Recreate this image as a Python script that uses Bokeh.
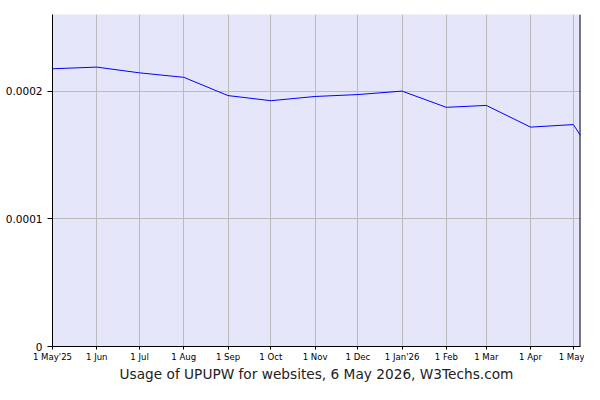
import pandas as pd
from bokeh.plotting import figure
from bokeh.models import Range1d, FixedTicker, Span
from bokeh.embed import file_html
from bokeh.resources import INLINE

dates = ["2025-05-01", "2025-06-01", "2025-07-01", "2025-08-01", "2025-09-01",
         "2025-10-01", "2025-11-01", "2025-12-01", "2026-01-01", "2026-02-01",
         "2026-03-01", "2026-04-01", "2026-05-01", "2026-05-06"]
usage = [0.0002175, 0.0002188, 0.0002143, 0.0002108, 0.0001965,
         0.0001925, 0.0001958, 0.0001973, 0.0002000, 0.0001873,
         0.0001888, 0.0001718, 0.0001738, 0.0001652]

tick_dates = ["2025-05-01", "2025-06-01", "2025-07-01", "2025-08-01", "2025-09-01",
              "2025-10-01", "2025-11-01", "2025-12-01", "2026-01-01", "2026-02-01",
              "2026-03-01", "2026-04-01", "2026-05-01"]
tick_labels = ["1 May'25", "1 Jun", "1 Jul", "1 Aug", "1 Sep", "1 Oct", "1 Nov",
               "1 Dec", "1 Jan'26", "1 Feb", "1 Mar", "1 Apr", "1 May"]
y_ticks = [0, 0.0001, 0.0002]
y_tick_labels = ["0", "0.0001", "0.0002"]
title_text = "Usage of UPUPW for websites, 6 May 2026, W3Techs.com"

def to_ms(s):
    return int(pd.Timestamp(s).value // 10**6)

x = [to_ms(d) for d in dates]
xt = [to_ms(d) for d in tick_dates]

p = figure(width=584, height=384, output_backend="svg", toolbar_location=None,
           x_range=Range1d(x[0], x[-1]), y_range=Range1d(0, 0.00026),
           min_border_left=52, min_border_right=4, min_border_top=14,
           min_border_bottom=0)
p.background_fill_color = "#E6E6FA"
p.border_fill_color = "white"
p.outline_line_color = None

p.line(x, usage, line_color="#0000FF", line_width=1)

p.xaxis.ticker = FixedTicker(ticks=xt)
p.xaxis.major_label_overrides = {v: l for v, l in zip(xt, tick_labels)}
p.yaxis.ticker = FixedTicker(ticks=y_ticks)
p.yaxis.major_label_overrides = {v: l for v, l in zip(y_ticks, y_tick_labels)}

for ax in (p.xaxis, p.yaxis):
    ax.axis_line_color = "black"
    ax.axis_line_width = 1
    ax.major_tick_line_color = "black"
    ax.minor_tick_line_color = None
    ax.major_tick_in = 0
    ax.major_label_text_color = "black"

p.xaxis.major_tick_out = 3
p.xaxis.major_label_standoff = 1
p.xaxis.major_label_text_font = "DejaVu Sans Condensed"
p.xaxis.major_label_text_font_size = "9.5px"
p.xaxis.major_label_text_line_height = 1.0
p.xaxis.axis_label = title_text
p.xaxis.axis_label_standoff = 1
p.xaxis.axis_label_text_font = "DejaVu Sans"
p.xaxis.axis_label_text_font_size = "13.7px"
p.xaxis.axis_label_text_font_style = "normal"
p.xaxis.axis_label_text_color = "#222222"
p.xaxis.axis_label_text_line_height = 1.0
p.yaxis.major_tick_out = 5
p.yaxis.major_label_standoff = 5
p.yaxis.major_label_text_font = "DejaVu Sans"
p.yaxis.major_label_text_font_size = "10.5px"

p.xgrid.ticker = FixedTicker(ticks=xt)
p.ygrid.ticker = FixedTicker(ticks=y_ticks)
p.grid.grid_line_color = "#BBBBBB"
p.grid.grid_line_width = 1

p.add_layout(Span(location=x[-1], dimension="height", line_color="black", line_width=2))

open("out.html", "w").write(file_html(p, INLINE))
